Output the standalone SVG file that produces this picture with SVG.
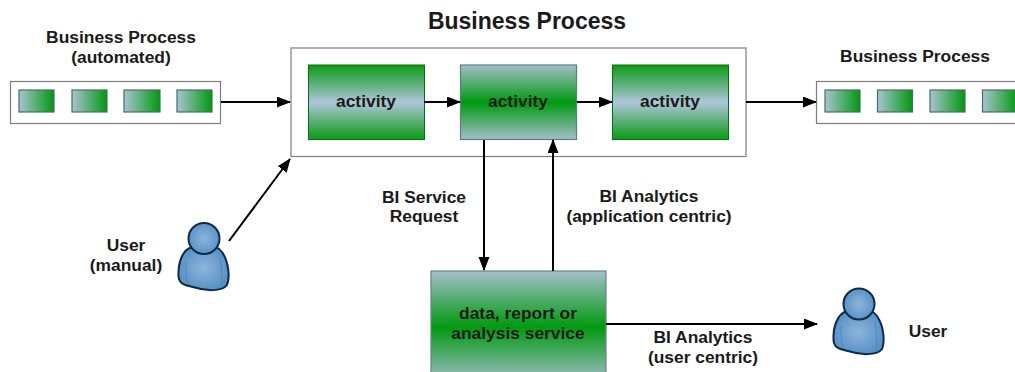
<svg xmlns="http://www.w3.org/2000/svg" width="1015" height="372" viewBox="0 0 1015 372">
<style>
text{font-family:"Liberation Sans",Arial,sans-serif;font-weight:bold;font-size:17.400px;fill:#1a1a1a;text-anchor:middle}
.frame{fill:#fff;stroke:#7f7f7f;stroke-width:1.2}
.chip{fill:url(#h);stroke:#4d6b66;stroke-width:1.2}
.c{fill:none;stroke:#000;stroke-width:2}
.body{fill:url(#u);stroke:#0f2a44;stroke-width:2}
.crease{fill:none;stroke:#4f7fae;stroke-width:.7}
</style>
<defs>
<linearGradient id="h"><stop offset="0" stop-color="#a8c4d2"/><stop offset="1" stop-color="#009a0e"/></linearGradient>
<linearGradient id="g1" x2="0" y2="1"><stop offset="0" stop-color="#0a9a14"/><stop offset=".5" stop-color="#aec6da"/><stop offset="1" stop-color="#0a9a14"/></linearGradient>
<linearGradient id="g2" x2="0" y2="1"><stop offset="0" stop-color="#a3bfcc"/><stop offset=".5" stop-color="#009a0e"/><stop offset="1" stop-color="#a3bfcc"/></linearGradient>
<radialGradient id="u" cx=".5" cy=".5" r=".6"><stop offset="0" stop-color="#8db5da"/><stop offset="1" stop-color="#4f8cc4"/></radialGradient>
<marker id="a" markerUnits="userSpaceOnUse" markerWidth="15" markerHeight="12" refX="13" refY="5.500" orient="auto"><path d="M0 0L14 5.500L0 11z" fill="#000"/></marker>
</defs>
<text x="527" y="29" style="font-size:23px">Business Process</text>
<g id="bp-auto">
<text x="121" y="43">Business Process</text><text x="121" y="63">(automated)</text>
<rect class="frame" x="10.500" y="81.500" width="210" height="42"/>
<rect class="chip" x="19" y="90" width="35" height="22"/><rect class="chip" x="72" y="90" width="35" height="22"/><rect class="chip" x="124" y="90" width="36" height="22"/><rect class="chip" x="177" y="90" width="35" height="22"/>
</g>
<g id="bp-main"><rect class="frame" x="291" y="48" width="455" height="108.500"/></g>
<g id="activity-1"><rect x="308.500" y="65" width="116" height="74.500" fill="url(#g1)" stroke="#0a6e14"/><text x="366" y="107">activity</text></g>
<g id="activity-2"><rect x="460.500" y="65" width="116" height="74.500" fill="url(#g2)" stroke="#5f7d85" stroke-width="1.200"/><text x="518" y="107">activity</text></g>
<g id="activity-3"><rect x="612.500" y="65" width="116" height="74.500" fill="url(#g1)" stroke="#0a6e14"/><text x="670" y="107">activity</text></g>
<g id="bp-right">
<text x="915" y="62">Business Process</text>
<rect class="frame" x="816.500" y="81.500" width="210" height="42"/>
<rect class="chip" x="825" y="90" width="35" height="22"/><rect class="chip" x="877.500" y="90" width="35" height="22"/><rect class="chip" x="930" y="90" width="35" height="22"/><rect class="chip" x="982.500" y="90" width="35" height="22"/>
</g>
<g id="service"><rect x="431" y="271" width="175" height="112" fill="url(#g2)" stroke="#6d8287" stroke-width="1.200"/><text x="518" y="319">data, report or</text><text x="518" y="339">analysis service</text></g>
<g id="user-manual">
<text x="126" y="251">User</text><text x="126" y="271">(manual)</text>
<path class="body" d="M192 247C182 250 178 263 178.500 276C179 284 184 285 193 287C205 291 222 292 227 285C230 278 229 262 222 252C219 248 216 247 214 246Z"/>
<path class="crease" d="M186 262C186 270 186 278 188 284M220 258C222 268 222 278 221 287"/>
<circle class="body" cx="204" cy="238.500" r="15.500"/>
</g>
<g id="user-right">
<text x="928" y="337">User</text>
<path class="body" d="M847 311C837 314 833 327 833.500 340C834 348 839 349 848 351C860 355 877 356 882 349C885 342 884 326 877 316C874 312 871 311 869 310Z"/>
<path class="crease" d="M841 326C841 334 841 342 843 348M875 322C877 332 877 342 876 351"/>
<circle class="body" cx="859" cy="304" r="15.500"/>
</g>
<g id="connectors">
<path class="c" marker-end="url(#a)" d="M221 102H290"/>
<path class="c" marker-end="url(#a)" d="M424 102H460"/>
<path class="c" marker-end="url(#a)" d="M577 102H612"/>
<path class="c" marker-end="url(#a)" d="M746 102H816"/>
<path class="c" marker-end="url(#a)" d="M229 241L290 159"/>
<path class="c" marker-end="url(#a)" d="M484 140V270"/>
<path class="c" marker-end="url(#a)" d="M553 271V140"/>
<path class="c" marker-end="url(#a)" d="M606 324H817"/>
</g>
<g id="labels">
<text x="424" y="203">BI Service</text><text x="424" y="222">Request</text>
<text x="649" y="202">BI Analytics</text><text x="649" y="222">(application centric)</text>
<text x="703" y="343">BI Analytics</text><text x="703" y="363">(user centric)</text>
</g>
</svg>
